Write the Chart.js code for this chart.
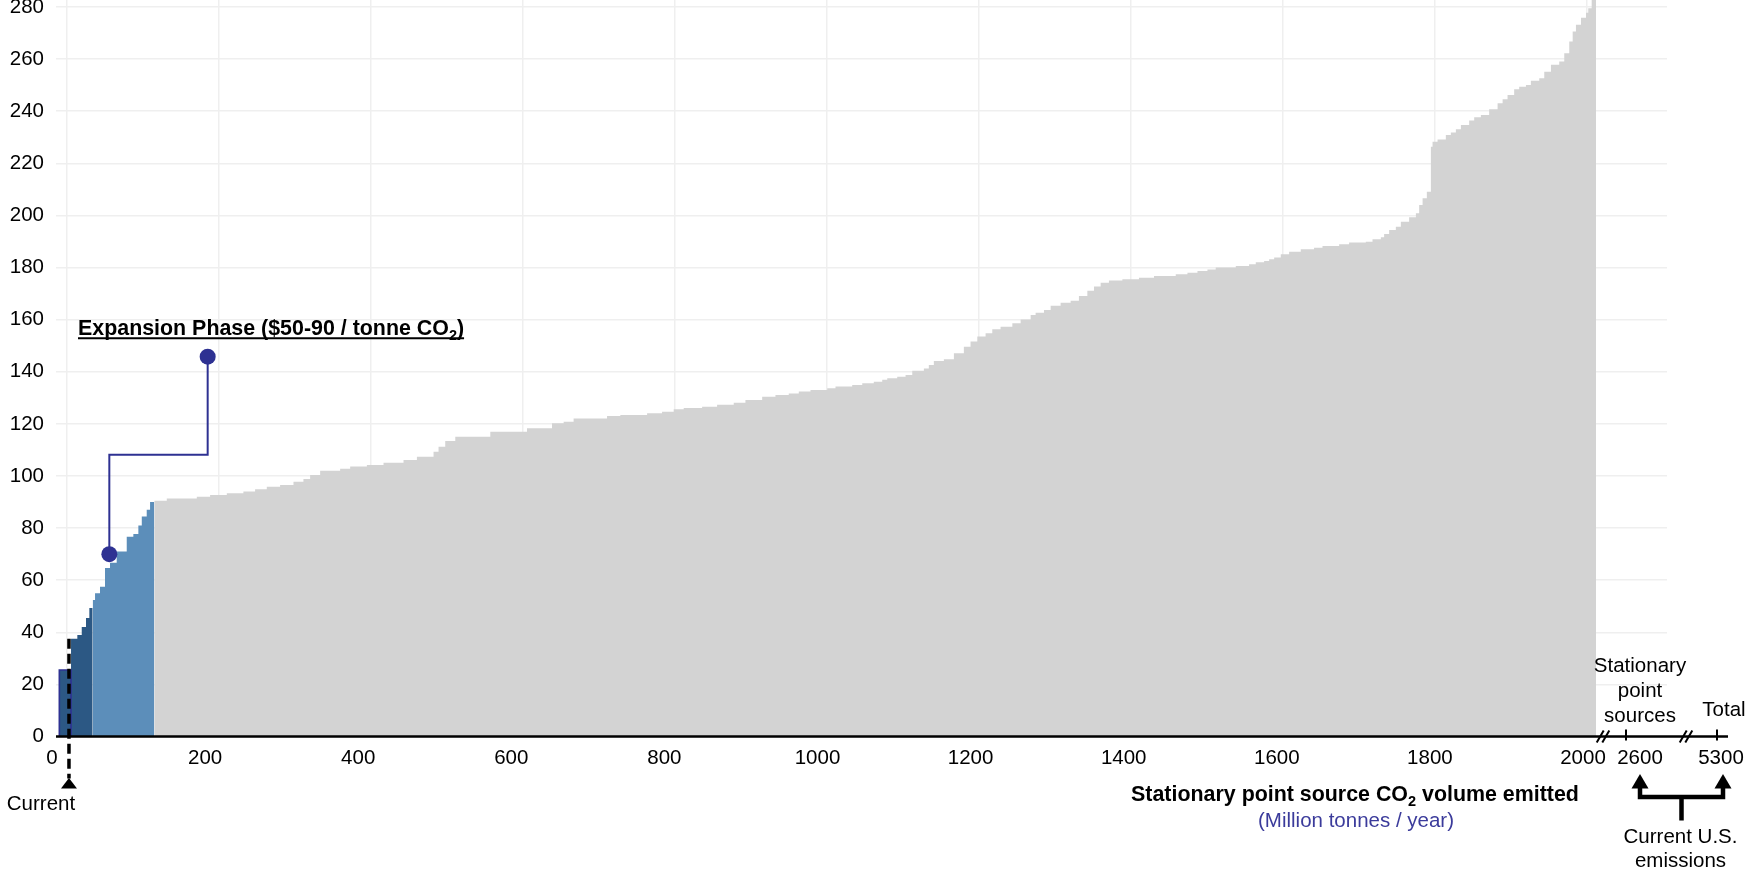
<!DOCTYPE html>
<html><head><meta charset="utf-8">
<script src="https://cdn.jsdelivr.net/npm/chart.js@4.4.1/dist/chart.umd.min.js"></script>
<style>html,body{margin:0;padding:0;background:#fff;}#wrap{width:1748px;height:873px;position:relative;}</style>
</head><body><div id="wrap"><canvas id="c"></canvas></div>
<script>
// ---- tick labels ----
const xTicks = [0, 200, 400, 600, 800, 1000, 1200, 1400, 1600, 1800, 2000];
const yTicks = [0, 20, 40, 60, 80, 100, 120, 140, 160, 180, 200, 220, 240, 260, 280];
const breakTickLabels = ['2600', '5300'];

// ---- data: cumulative volume where each source starts (Mt/yr) and its cost ($/t) ----
const currentStart = [-10.1];
const currentCost = [25.5];
const currentEnd = 5.3;

const earlyStart = [5.3, 13.6, 19.4, 25.0, 29.4];
const earlyCost = [37.5, 39, 42, 45.5, 49.3];
const earlyEnd = 33.8;

const expansionStart = [33.8, 36.9, 43.4, 50.0, 56.6, 65.4, 78.6, 87.3, 93.9, 98.4, 104.9, 109.3];
const expansionCost = [52.4, 55, 57.5, 64.7, 66.7, 71, 76.7, 77.7, 81, 84.4, 87, 90];
const expansionEnd = 114.8;

const otherStart = [114.8, 131.3, 170.8, 188.3, 210.3, 232.1, 247.5, 262.9, 280.4, 298.0, 311.1, 319.9, 333.1, 359.4, 372.6, 394.6, 416.5, 442.8, 460.4, 482.3, 488.9, 497.7, 510.9, 557.0, 605.3, 638.2, 653.5, 666.6, 710.6, 728.1, 763.3, 783.0, 798.3, 811.5, 835.7, 855.4, 877.3, 892.7, 914.7, 932.2, 949.7, 962.9, 978.3, 1000.3, 1011.2, 1033.2, 1046.4, 1061.6, 1072.7, 1079.3, 1092.4, 1103.4, 1112.2, 1127.5, 1134.0, 1140.6, 1153.8, 1167.0, 1180.1, 1188.9, 1197.8, 1208.7, 1217.5, 1228.4, 1243.9, 1254.8, 1268.0, 1274.5, 1285.5, 1294.3, 1307.4, 1320.6, 1331.5, 1342.6, 1351.3, 1360.1, 1371.0, 1388.7, 1410.5, 1430.3, 1458.9, 1474.3, 1487.5, 1500.6, 1511.5, 1537.9, 1555.4, 1564.2, 1575.2, 1581.8, 1588.4, 1597.1, 1608.1, 1623.4, 1640.9, 1652.0, 1673.9, 1687.0, 1709.0, 1717.8, 1728.8, 1733.1, 1739.7, 1748.5, 1755.1, 1766.0, 1774.9, 1779.2, 1783.7, 1789.3, 1794.6, 1796.8, 1803.4, 1814.3, 1820.9, 1827.5, 1834.1, 1845.0, 1851.6, 1860.4, 1871.3, 1882.4, 1889.0, 1895.5, 1904.2, 1910.8, 1919.7, 1926.2, 1937.2, 1943.8, 1952.6, 1963.5, 1970.1, 1976.7, 1981.2, 1985.5, 1992.1, 1998.7, 2001.7, 2006.2];
const otherCost = [90.5, 91.4, 92, 92.7, 93.4, 94, 94.9, 95.9, 96.5, 97.8, 98.8, 100.4, 102, 102.8, 103.6, 104.2, 105.1, 106.1, 107.4, 109.3, 111.2, 113.4, 115.1, 117, 118.3, 120.2, 120.8, 122.1, 123, 123.4, 124.1, 124.7, 125.6, 126.1, 126.6, 127.3, 128.1, 129.2, 130.4, 131.1, 131.7, 132.4, 133, 133.7, 134.3, 134.9, 135.6, 136.2, 136.9, 137.5, 138.1, 138.8, 140.4, 141.3, 142.6, 144.1, 144.8, 147.1, 149.6, 151.6, 153.5, 154.8, 156.3, 157.3, 158.6, 160.1, 161.8, 162.7, 163.7, 165.3, 166.5, 167.3, 169.1, 171.1, 172.7, 174.2, 175, 175.5, 176.1, 176.8, 177.4, 178, 178.7, 179.3, 180, 180.6, 181.3, 182, 182.5, 183.2, 183.9, 185.1, 186.1, 187, 187.6, 188.3, 188.9, 189.6, 189.9, 190.9, 191.6, 192.9, 194.4, 195.7, 197.6, 199.3, 200.8, 204, 206.6, 209.1, 226.4, 228.3, 229.2, 230.9, 231.8, 233.1, 234.7, 236.4, 237.7, 238.6, 240.8, 243.1, 244.6, 246.2, 248.4, 249.4, 250.1, 251.7, 252.7, 255.2, 257.8, 259.1, 262.3, 266.8, 270.6, 273.2, 275.9, 277.8, 279.5, 300];
const otherEnd = 2012;

// expansion phase callout (volume, cost)
const phaseX = [55.7, 55.7, 185.1, 185.1];
const phaseY = [70, 108.1, 108.1, 145.8];
// current capacity marker
const currentMarkX = 2.6;
const currentMarkTop = 37.5;

// ---- styles ----
const FONT = '"Liberation Sans", Arial, Helvetica, sans-serif';
const NAVY = '#2e3192';
const DARK = '#2c5884';
const LIGHT = '#5c8eba';
const GRAY = '#d3d3d3';
const GRID = '#efefef';

function steps(starts, costs, end) {
  const pts = starts.map((x, i) => ({x: x, y: costs[i]}));
  pts.push({x: end, y: costs[costs.length - 1]});
  return pts;
}
function rect(starts, costs, end) {
  return [{x: starts[0], y: 0}, {x: starts[0], y: costs[0]}, {x: end, y: costs[0]}, {x: end, y: 0}];
}
function area(data, color) {
  return {data: data, stepped: 'before', fill: 'origin', backgroundColor: color,
    borderColor: 'rgba(0,0,0,0)', borderWidth: 0, pointRadius: 0};
}

function drawRich(ctx, parts, x, y, align) {
  let w = 0;
  parts.forEach(p => { ctx.font = p.font; p.w = ctx.measureText(p.t).width; w += p.w; });
  let cx = align === 'center' ? x - w / 2 : x;
  const start = cx;
  ctx.textAlign = 'left';
  ctx.textBaseline = 'alphabetic';
  parts.forEach(p => { ctx.font = p.font; ctx.fillText(p.t, cx, y + (p.dy || 0)); cx += p.w; });
  return {start: start, end: cx};
}

const annot = {
  id: 'annot',
  afterDraw(chart) {
    const {ctx, chartArea: a, scales: {x, y}} = chart;
    const y0 = y.getPixelForValue(0);
    const reg = '20.5px ' + FONT;
    const bold = 'bold 21.4px ' + FONT;
    const sub = 'bold 14.5px ' + FONT;
    ctx.save();
    ctx.fillStyle = '#000';
    ctx.strokeStyle = '#000';

    // axis line (with broken extension)
    ctx.lineWidth = 2.5;
    ctx.beginPath(); ctx.moveTo(a.left, y0); ctx.lineTo(a.right + 61, y0); ctx.stroke();
    // break marks
    ctx.lineWidth = 2;
    [a.right - 64, a.right + 19].forEach(bx => {
      [-2.8, 2.8].forEach(d => {
        ctx.beginPath(); ctx.moveTo(bx + d - 3.5, y0 + 6); ctx.lineTo(bx + d + 3.5, y0 - 6); ctx.stroke();
      });
    });
    // tick marks after break
    const tickXs = [a.right - 41, a.right + 50];
    tickXs.forEach(tx => { ctx.beginPath(); ctx.moveTo(tx, y0 - 7); ctx.lineTo(tx, y0 + 4); ctx.stroke(); });
    ctx.font = reg; ctx.textAlign = 'center'; ctx.textBaseline = 'middle';
    ctx.fillText(breakTickLabels[0], a.right - 27, y0 + 22.3);
    ctx.fillText(breakTickLabels[1], a.right + 54, y0 + 22.3);

    // labels above axis on right
    ctx.textBaseline = 'alphabetic';
    ctx.fillText('Stationary', a.right - 27, y0 - 64.2);
    ctx.fillText('point', a.right - 27, y0 - 39.5);
    ctx.fillText('sources', a.right - 27, y0 - 14.8);
    ctx.fillText('Total', a.right + 57, y0 - 20.8);

    // current U.S. emissions bracket
    const xa1 = a.right - 27, xa2 = a.right + 56, xm = (xa1 + xa2) / 2;
    [xa1, xa2].forEach(ax => {
      ctx.beginPath(); ctx.moveTo(ax, y0 + 37.5); ctx.lineTo(ax + 8.5, y0 + 52); ctx.lineTo(ax - 8.5, y0 + 52); ctx.closePath(); ctx.fill();
    });
    ctx.lineWidth = 4.5; ctx.lineCap = 'butt'; ctx.lineJoin = 'miter';
    ctx.beginPath();
    ctx.moveTo(xa1, y0 + 51); ctx.lineTo(xa1, y0 + 60.5); ctx.lineTo(xa2, y0 + 60.5); ctx.lineTo(xa2, y0 + 51);
    ctx.moveTo(xm, y0 + 60.5); ctx.lineTo(xm, y0 + 84);
    ctx.stroke();
    ctx.font = reg; ctx.textAlign = 'center';
    ctx.fillText('Current U.S.', xm - 1, y0 + 106);
    ctx.fillText('emissions', xm - 1, y0 + 130);

    // axis title
    drawRich(ctx, [
      {t: 'Stationary point source CO', font: bold},
      {t: '2', font: sub, dy: 5},
      {t: ' volume emitted', font: bold}
    ], a.left + 1299, y0 + 64, 'center');
    ctx.fillStyle = '#3b3b9b';
    ctx.font = reg; ctx.textAlign = 'center';
    ctx.fillText('(Million tonnes / year)', a.left + 1300, y0 + 90.5);
    ctx.fillStyle = '#000';

    // current capacity marker
    const cx = x.getPixelForValue(currentMarkX);
    ctx.lineWidth = 3.5; ctx.setLineDash([10, 5]);
    ctx.beginPath(); ctx.moveTo(cx, y.getPixelForValue(currentMarkTop)); ctx.lineTo(cx, y0 + 42); ctx.stroke();
    ctx.setLineDash([]);
    ctx.beginPath(); ctx.moveTo(cx, y0 + 41.5); ctx.lineTo(cx + 8, y0 + 52); ctx.lineTo(cx - 8, y0 + 52); ctx.closePath(); ctx.fill();
    ctx.font = reg; ctx.textAlign = 'center';
    ctx.fillText('Current', cx - 28, y0 + 73);

    // expansion phase label
    const ty = y.getPixelForValue(154.1);
    const r = drawRich(ctx, [
      {t: 'Expansion Phase ($50-90 / tonne CO', font: bold},
      {t: '2', font: sub, dy: 5},
      {t: ')', font: bold}
    ], a.left + 22, ty, 'left');
    ctx.lineWidth = 2.2;
    ctx.beginPath(); ctx.moveTo(r.start, ty + 3.2); ctx.lineTo(r.end, ty + 3.2); ctx.stroke();
    ctx.restore();
  }
};

function zeroPad(s) { s.paddingLeft = 0; s.paddingRight = 0; s.paddingTop = 0; s.paddingBottom = 0; }

new Chart(document.getElementById('c'), {
  type: 'line',
  data: {
    datasets: [
      {data: phaseX.map((v, i) => ({x: v, y: phaseY[i]})), borderColor: NAVY, borderWidth: 2, fill: false,
        tension: 0, pointRadius: c => (c.dataIndex === 0 || c.dataIndex === phaseX.length - 1) ? 8 : 0,
        pointBackgroundColor: NAVY, pointBorderWidth: 0, borderJoinStyle: 'miter'},
      {data: rect(currentStart, currentCost, currentEnd), fill: 'origin', backgroundColor: DARK,
        borderColor: NAVY, borderWidth: 1.6, pointRadius: 0, tension: 0, borderJoinStyle: 'miter'},
      area(steps(earlyStart, earlyCost, earlyEnd), DARK),
      area(steps(expansionStart, expansionCost, expansionEnd), LIGHT),
      area(steps(otherStart, otherCost, otherEnd), GRAY)
    ]
  },
  options: {
    responsive: true, maintainAspectRatio: false, animation: false, events: [],
    layout: {autoPadding: false, padding: {left: 0, top: 0, right: 81, bottom: 0}},
    plugins: {legend: {display: false}, tooltip: {enabled: false}},
    scales: {
      x: {
        type: 'linear', position: 'bottom', min: -14.47, max: 2105.3,
        afterBuildTicks: s => { s.ticks = xTicks.map(v => ({value: v})); },
        afterFit: s => { s.height = 0; zeroPad(s); },
        grid: {color: GRID, lineWidth: 1.5, drawTicks: false},
        border: {display: false},
        ticks: {display: false}
      },
      xl: {
        axis: 'x', type: 'linear', position: 'bottom', min: 0, max: 2104.5,
        afterBuildTicks: s => { s.ticks = xTicks.map(v => ({value: v})); },
        afterFit: s => { s.height = 136.5; zeroPad(s); },
        grid: {display: false, drawTicks: false},
        border: {display: false},
        ticks: {autoSkip: false, maxRotation: 0, padding: 10, labelOffset: -4, color: '#000',
          font: {family: FONT, size: 20.5}, callback: v => String(v)}
      },
      y: {
        type: 'linear', min: 0, max: 282.7,
        afterBuildTicks: s => { s.ticks = yTicks.map(v => ({value: v})); },
        afterFit: s => { s.width = 56; zeroPad(s); },
        grid: {color: GRID, lineWidth: 1.5, drawTicks: false},
        border: {display: false},
        ticks: {padding: 12, color: '#000', font: {family: FONT, size: 20.5}, callback: v => String(v)}
      }
    }
  },
  plugins: [annot]
});
</script>
</body></html>
